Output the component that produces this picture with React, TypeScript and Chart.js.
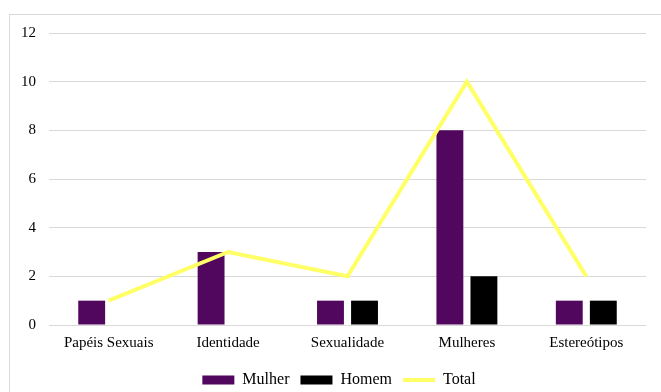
import React, { useEffect, useRef } from "react";
import { Chart, registerables } from "chart.js";

Chart.register(...registerables);

const categories = ["Papéis Sexuais", "Identidade", "Sexualidade", "Mulheres", "Estereótipos"];
const mulher = [1, 3, 1, 8, 1];
const homem = [0, 0, 1, 2, 1];
const total = [1, 3, 2, 10, 2];
const yTicks = [0, 2, 4, 6, 8, 10, 12];

const PURPLE = "#52075e";
const BLACK = "#000000";
const YELLOW = "#ffff66";
const FONT = "'Liberation Serif', 'Times New Roman', serif";

const shiftLegend = {
  id: "shiftLegend",
  afterLayout(chart: any) {
    if (chart.legend) chart.legend.left += 24;
  },
};

export default function App() {
  const ref = useRef<HTMLCanvasElement>(null);
  useEffect(() => {
    if (!ref.current) return;
    const chart = new Chart(ref.current, {
      type: "bar",
      data: {
        labels: categories,
        datasets: [
          { type: "line", label: "Total", data: total, borderColor: YELLOW, backgroundColor: YELLOW, borderWidth: 4, pointRadius: 0, order: 0, tension: 0 } as any,
          { type: "bar", label: "Mulher", data: mulher, backgroundColor: PURPLE, order: 1, categoryPercentage: 0.57, barPercentage: 0.79 },
          { type: "bar", label: "Homem", data: homem, backgroundColor: BLACK, order: 1, categoryPercentage: 0.57, barPercentage: 0.79 },
        ],
      },
      plugins: [shiftLegend],
      options: {
        animation: false,
        responsive: false,
        layout: { padding: { left: 8, right: 15, top: 33, bottom: 0 } },
        scales: {
          x: {
            grid: { display: false, drawTicks: false },
            border: { display: false },
            ticks: { color: "#000", font: { family: FONT, size: 15 }, padding: 9, maxRotation: 0 },
          },
          y: {
            min: 0,
            max: 12,
            afterBuildTicks: (s: any) => { s.ticks = yTicks.map((v) => ({ value: v })); },
            grid: { color: "#d9d9d9", lineWidth: 1, drawTicks: false },
            border: { display: false },
            ticks: { color: "#000", font: { family: FONT, size: 15 }, padding: 13 },
          },
        },
        plugins: {
          tooltip: { enabled: false },
          legend: {
            position: "bottom",
            labels: {
              color: "#000",
              font: { family: FONT, size: 16 },
              usePointStyle: true,
              pointStyleWidth: 32,
              boxHeight: 9,
              padding: 11,
              generateLabels: (c: any) => {
                const items = Chart.defaults.plugins.legend.labels.generateLabels(c);
                const order = ["Mulher", "Homem", "Total"];
                return order.map((name) => {
                  const it: any = items.find((i: any) => i.text === name);
                  if (name === "Total") {
                    it.pointStyle = "line";
                    it.strokeStyle = YELLOW;
                    it.lineWidth = 4;
                  } else {
                    it.pointStyle = "rect";
                    it.lineWidth = 0;
                  }
                  return it;
                });
              },
            },
          },
        },
      },
    });
    return () => chart.destroy();
  }, []);
  return (
    <div style={{ position: "fixed", left: 0, top: 0, width: 661, height: 392, background: "#fff", overflow: "hidden" }}>
      <div style={{ position: "absolute", left: 9, top: 14, width: 660, height: 390, border: "1px solid #d9d9d9", boxSizing: "border-box" }} />
      <canvas ref={ref} width={661} height={398} style={{ position: "absolute", left: 0, top: 0 }} />
    </div>
  );
}
